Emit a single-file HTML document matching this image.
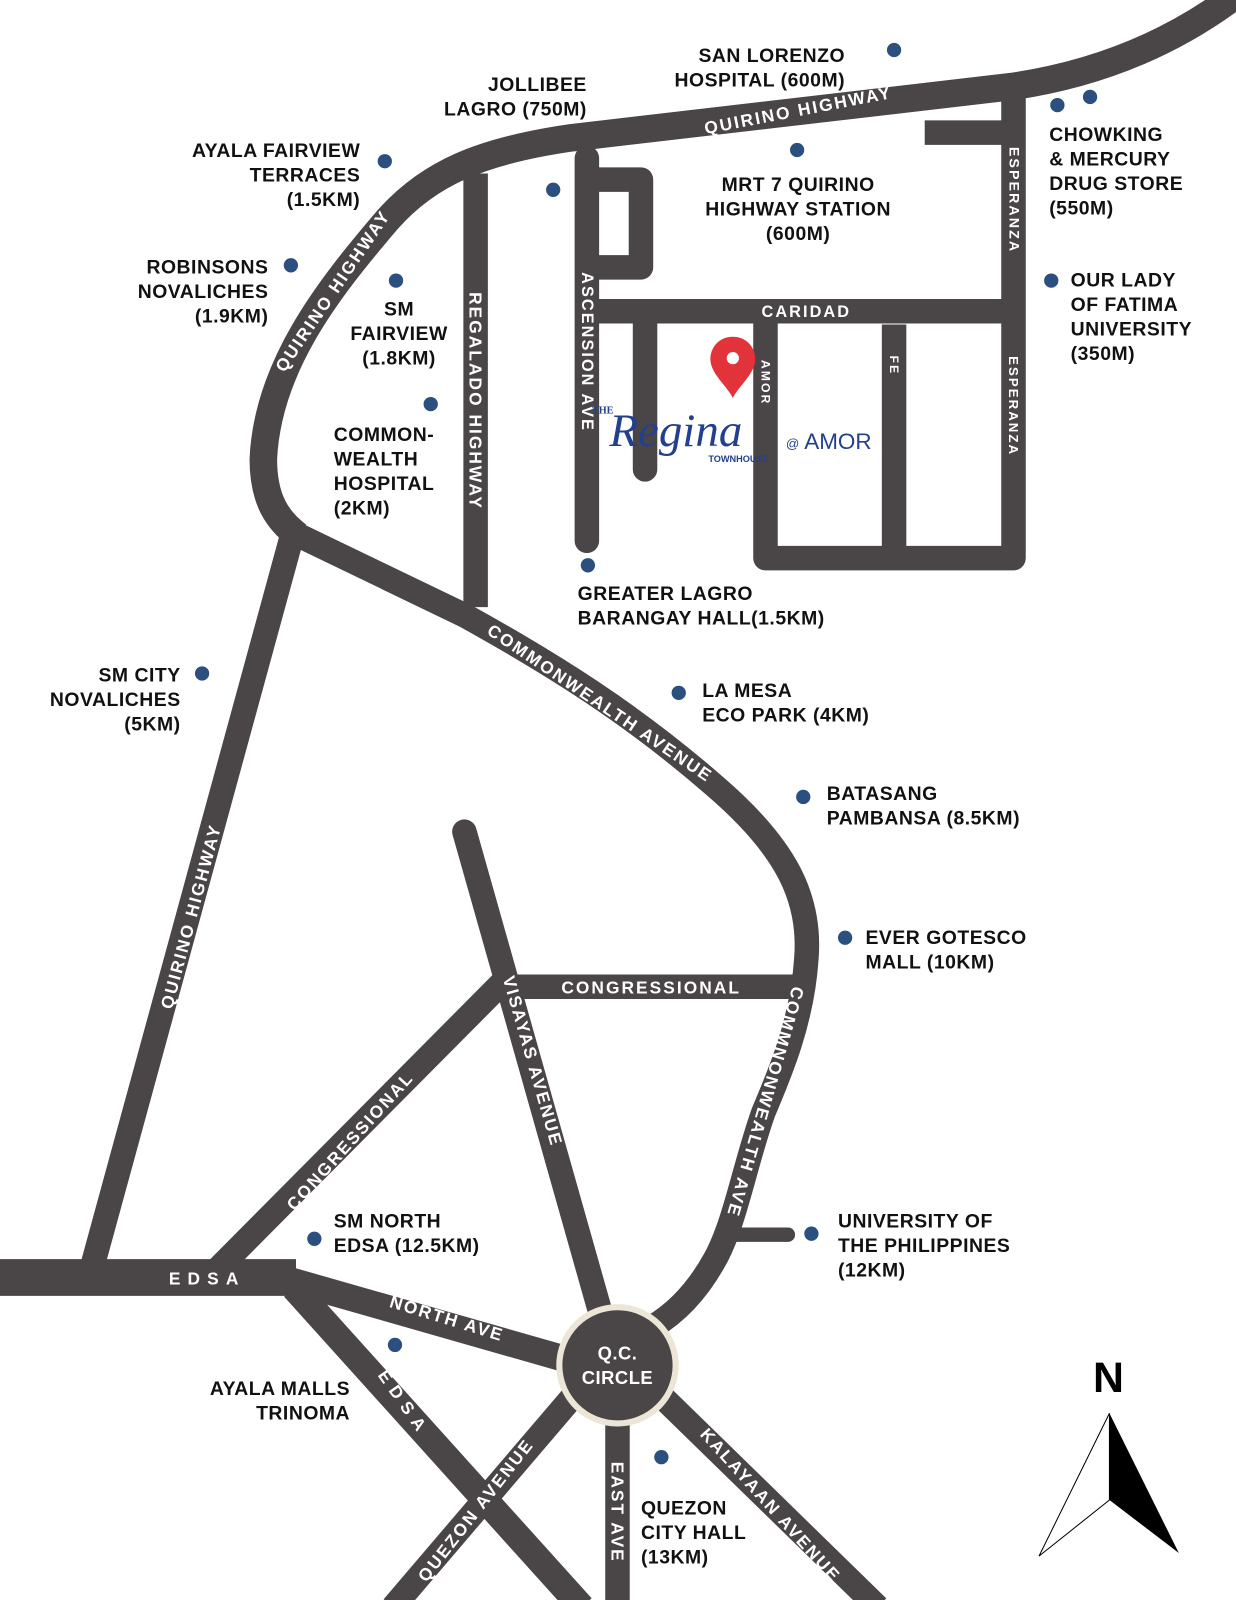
<!DOCTYPE html>
<html><head><meta charset="utf-8"><style>
html,body{margin:0;padding:0;background:#fff}
svg{display:block}
.r{fill:none;stroke:#4a4546;stroke-width:24;stroke-linejoin:round;stroke-linecap:butt}
.rl{font-family:"Liberation Sans",sans-serif;font-weight:bold;fill:#fff;font-size:17px;letter-spacing:2px;text-anchor:middle;dominant-baseline:central}
.lb{font-family:"Liberation Sans",sans-serif;font-weight:bold;fill:#111;font-size:19px;letter-spacing:0.5px}
.d{fill:#2b4f7e}
</style></head><body>
<svg width="1236" height="1600" viewBox="0 0 1211 1568" preserveAspectRatio="none" xmlns="http://www.w3.org/2000/svg">
<!-- roads -->
<path class="r" style="stroke-width:27" d="M1215,-8 C1140,50 1060,75 990,85 L560,135 C470,148 420,170 380,215 C320,285 262,360 258,450 C258,490 272,510 292,525"/>
<path class="r" d="M287,522 L88,1250"/>
<path class="r" d="M287,522 L455,603 C540,650 620,700 700,770 C770,830 795,880 790,940 C786,1000 765,1050 748,1090 C730,1140 720,1200 700,1235 C685,1262 665,1285 640,1300"/>
<path class="r" d="M466,170 L466,595"/>
<path class="r" style="stroke-linecap:round" d="M575,155 L575,530"/>
<path class="r" d="M575,176 L628,176 L628,262 L585,262"/>
<path class="r" d="M575,305 L1000,305"/>
<path class="r" d="M993,85 L993,547 L750,547 L750,305"/>
<path class="r" d="M906,130 L993,130"/>
<path class="r" d="M876,318 L876,540"/>
<path class="r" style="stroke-linecap:round" d="M632,318 L632,460"/>
<path class="r" style="stroke-linecap:round" d="M455,815 L595,1310"/>
<path class="r" d="M483,967 L782,967"/>
<path class="r" d="M492,963 L212,1245"/>
<path class="r" style="stroke-width:36" d="M0,1252 L290,1252"/>
<path class="r" style="stroke-width:26" d="M285,1255 L565,1335"/>
<path class="r" style="stroke-width:26" d="M288,1262 L570,1575"/>
<path class="r" d="M560,1370 L385,1575"/>
<path class="r" d="M605,1370 L605,1575"/>
<path class="r" d="M650,1370 L860,1575"/>
<path class="r" style="stroke-width:14;stroke-linecap:round" d="M715,1210 L772,1210"/>
<circle cx="605" cy="1338" r="57" fill="#4a4546" stroke="#ebe6d6" stroke-width="6"/>
<text class="rl" x="605" y="1326" style="letter-spacing:0.5px;font-size:18px">Q.C.</text>
<text class="rl" x="605" y="1350" style="letter-spacing:0.5px;font-size:18px">CIRCLE</text>

<!-- road labels -->
<text class="rl" transform="translate(782,108) rotate(-11)">QUIRINO HIGHWAY</text>
<text class="rl" transform="translate(326,285) rotate(-56)">QUIRINO HIGHWAY</text>
<text class="rl" transform="translate(187,898) rotate(-75)">QUIRINO HIGHWAY</text>
<text class="rl" transform="translate(466,393) rotate(90)">REGALADO HIGHWAY</text>
<text class="rl" transform="translate(575,345) rotate(90)" style="font-size:16px">ASCENSION AVE</text>
<text class="rl" transform="translate(993,196) rotate(90)" style="font-size:14px">ESPERANZA</text>
<text class="rl" transform="translate(993,398) rotate(90)" style="font-size:13px">ESPERANZA</text>
<text class="rl" transform="translate(750,375) rotate(90)" style="font-size:12px">AMOR</text>
<text class="rl" transform="translate(876,358) rotate(90)" style="font-size:12px">FE</text>
<text class="rl" x="790" y="306" style="font-size:16px">CARIDAD</text>
<text class="rl" transform="translate(588,689) rotate(34)">COMMONWEALTH AVENUE</text>
<text class="rl" transform="translate(750,1080) rotate(106)">COMMNONWEALTH AVE</text>
<text class="rl" transform="translate(522,1040) rotate(74)">VISAYAS AVENUE</text>
<text class="rl" x="638" y="968">CONGRESSIONAL</text>
<text class="rl" transform="translate(343,1118) rotate(-48)">CONGRESSIONAL</text>
<text class="rl" x="203" y="1253" style="letter-spacing:7px">EDSA</text>
<text class="rl" transform="translate(438,1292) rotate(17)">NORTH AVE</text>
<text class="rl" transform="translate(396,1375) rotate(55)" style="letter-spacing:7px">EDSA</text>
<text class="rl" transform="translate(466,1480) rotate(-52)">QUEZON AVENUE</text>
<text class="rl" transform="translate(605,1482) rotate(90)">EAST AVE</text>
<text class="rl" transform="translate(755,1475) rotate(48)">KALAYAAN AVENUE</text>

<!-- dots -->
<g class="d">
<circle cx="876" cy="49" r="7"/><circle cx="1036" cy="103" r="7"/><circle cx="1068" cy="95" r="7"/>
<circle cx="781" cy="147" r="7"/><circle cx="542" cy="186" r="7"/><circle cx="377" cy="158" r="7"/>
<circle cx="285" cy="260" r="7"/><circle cx="388" cy="275" r="7"/><circle cx="422" cy="396" r="7"/>
<circle cx="1030" cy="275" r="7"/><circle cx="576" cy="554" r="7"/><circle cx="198" cy="660" r="7"/>
<circle cx="665" cy="679" r="7"/><circle cx="787" cy="781" r="7"/><circle cx="828" cy="919" r="7"/>
<circle cx="308" cy="1214" r="7"/><circle cx="795" cy="1209" r="7"/><circle cx="387" cy="1318" r="7"/>
<circle cx="648" cy="1428" r="7"/>
</g>

<!-- place labels -->
<g class="lb">
<text x="828" y="61" text-anchor="end">SAN LORENZO</text>
<text x="828" y="85" text-anchor="end">HOSPITAL (600M)</text>
<text x="575" y="89" text-anchor="end">JOLLIBEE</text>
<text x="575" y="113" text-anchor="end">LAGRO (750M)</text>
<text x="353" y="154" text-anchor="end">AYALA FAIRVIEW</text>
<text x="353" y="178" text-anchor="end">TERRACES</text>
<text x="353" y="202" text-anchor="end">(1.5KM)</text>
<text x="263" y="268" text-anchor="end">ROBINSONS</text>
<text x="263" y="292" text-anchor="end">NOVALICHES</text>
<text x="263" y="316" text-anchor="end">(1.9KM)</text>
<text x="391" y="309" text-anchor="middle">SM</text>
<text x="391" y="333" text-anchor="middle">FAIRVIEW</text>
<text x="391" y="357" text-anchor="middle">(1.8KM)</text>
<text x="327" y="432">COMMON-</text>
<text x="327" y="456">WEALTH</text>
<text x="327" y="480">HOSPITAL</text>
<text x="327" y="504">(2KM)</text>
<text x="782" y="187" text-anchor="middle">MRT 7 QUIRINO</text>
<text x="782" y="211" text-anchor="middle">HIGHWAY STATION</text>
<text x="782" y="235" text-anchor="middle">(600M)</text>
<text x="1028" y="138">CHOWKING</text>
<text x="1028" y="162">&amp; MERCURY</text>
<text x="1028" y="186">DRUG STORE</text>
<text x="1028" y="210">(550M)</text>
<text x="1049" y="281">OUR LADY</text>
<text x="1049" y="305">OF FATIMA</text>
<text x="1049" y="329">UNIVERSITY</text>
<text x="1049" y="353">(350M)</text>
<text x="566" y="588">GREATER LAGRO</text>
<text x="566" y="612">BARANGAY HALL(1.5KM)</text>
<text x="177" y="668" text-anchor="end">SM CITY</text>
<text x="177" y="692" text-anchor="end">NOVALICHES</text>
<text x="177" y="716" text-anchor="end">(5KM)</text>
<text x="688" y="683">LA MESA</text>
<text x="688" y="707">ECO PARK (4KM)</text>
<text x="810" y="784">BATASANG</text>
<text x="810" y="808">PAMBANSA (8.5KM)</text>
<text x="848" y="925">EVER GOTESCO</text>
<text x="848" y="949">MALL (10KM)</text>
<text x="327" y="1203">SM NORTH</text>
<text x="327" y="1227">EDSA (12.5KM)</text>
<text x="821" y="1203">UNIVERSITY OF</text>
<text x="821" y="1227">THE PHILIPPINES</text>
<text x="821" y="1251">(12KM)</text>
<text x="343" y="1367" text-anchor="end">AYALA MALLS</text>
<text x="343" y="1391" text-anchor="end">TRINOMA</text>
<text x="628" y="1484">QUEZON</text>
<text x="628" y="1508">CITY HALL</text>
<text x="628" y="1532">(13KM)</text>
</g>

<!-- pin -->
<path d="M718,330 C704,330 696,341 696,352 C696,366 712,378 718,390 C724,378 740,366 740,352 C740,341 732,330 718,330 Z" fill="#e3333a"/>
<circle cx="718" cy="351" r="6" fill="#fff"/>
<!-- logo -->
<g fill="#23408e" font-family="Liberation Serif,serif">
<text x="580" y="405" font-size="10" font-weight="bold">THE</text>
<text x="597" y="437" font-size="46" font-style="italic">Regina</text>
<text x="694" y="453" font-size="9" font-family="Liberation Sans,sans-serif" font-weight="bold">TOWNHOUSE</text>
<text x="770" y="439" font-size="13" font-family="Liberation Sans,sans-serif">@</text>
<text x="788" y="440" font-size="22" font-family="Liberation Sans,sans-serif">AMOR</text>
</g>
<!-- compass -->
<text x="1086" y="1364" font-family="Liberation Sans,sans-serif" font-weight="bold" font-size="42" text-anchor="middle" fill="#000">N</text>
<path d="M1087,1385 L1018,1525 L1087,1470 Z" fill="#fff" stroke="#000" stroke-width="1"/>
<path d="M1087,1385 L1155,1522 L1087,1470 Z" fill="#000"/>
</svg>
</body></html>
